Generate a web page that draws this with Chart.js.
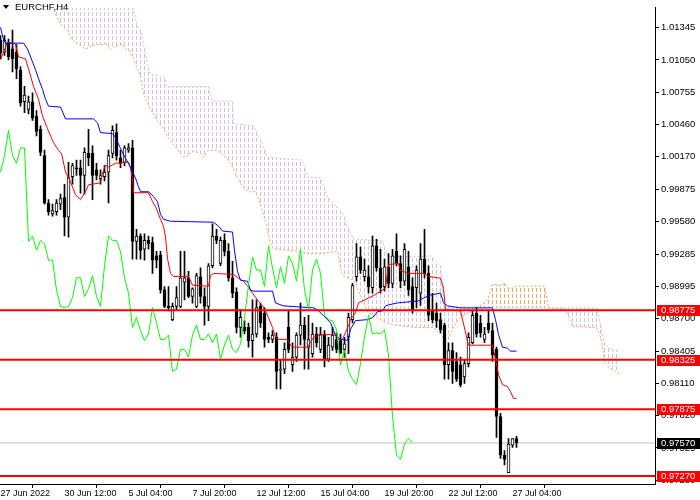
<!DOCTYPE html>
<html>
<head>
<meta charset="utf-8">
<title>EURCHF,H4</title>
<script src="https://cdn.jsdelivr.net/npm/chart.js@4.4.1/dist/chart.umd.min.js"></script>
<style>
  html, body { margin: 0; padding: 0; background: #fff; }
  #wrap { width: 700px; height: 500px; }
</style>
</head>
<body>
<div id="wrap"><canvas id="chart" width="700" height="500"></canvas></div>
<script>
// --- DATOS (barras H4, índice 0 = 27 Jun 2022 00:00) ---
const opens = [
  1.0123, 1.0112, 1.0121, 1.0115, 1.0112, 1.0096, 1.0067, 1.0060, 1.0067, 1.0054,
  1.0042, 1.0018, 0.9975, 0.9965, 0.9967, 0.9974, 0.9980, 0.9962, 0.9999, 1.0007,
  1.0007, 1.0000, 1.0020, 1.0020, 1.0005, 0.9997, 0.9999, 1.0003, 1.0020, 1.0039,
  1.0016, 1.0012, 1.0023, 1.0025, 0.9940, 0.9945, 0.9933, 0.9941, 0.9939, 0.9927,
  0.9928, 0.9896, 0.9881, 0.9869, 0.9881, 0.9881, 0.9903, 0.9907, 0.9890, 0.9881,
  0.9908, 0.9890, 0.9881, 0.9918, 0.9945, 0.9920, 0.9941, 0.9931, 0.9907, 0.9894,
  0.9862, 0.9862, 0.9862, 0.9850, 0.9856, 0.9881, 0.9875, 0.9853, 0.9851, 0.9853,
  0.9823, 0.9824, 0.9862, 0.9828, 0.9835, 0.9855, 0.9864, 0.9844, 0.9838, 0.9856,
  0.9842, 0.9856, 0.9833, 0.9844, 0.9851, 0.9850, 0.9842, 0.9853, 0.9869, 0.9908,
  0.9926, 0.9908, 0.9908, 0.9898, 0.9936, 0.9916, 0.9899, 0.9917, 0.9902, 0.9931,
  0.9920, 0.9904, 0.9917, 0.9899, 0.9898, 0.9893, 0.9924, 0.9911, 0.9877, 0.9875,
  0.9869, 0.9864, 0.9828, 0.9841, 0.9831, 0.9828, 0.9817, 0.9829, 0.9848, 0.9875,
  0.9866, 0.9851, 0.9866, 0.9859, 0.9842, 0.9781, 0.9746, 0.9730, 0.9755, 0.9761
];
const highs = [
  1.0127, 1.0127, 1.0124, 1.0132, 1.0119, 1.0099, 1.0081, 1.0072, 1.0075, 1.0059,
  1.0045, 1.0023, 0.9978, 0.9974, 0.9978, 0.9983, 0.9992, 1.0012, 1.0011, 1.0014,
  1.0014, 1.0025, 1.0042, 1.0027, 1.0011, 1.0005, 1.0009, 1.0023, 1.0045, 1.0047,
  1.0023, 1.0027, 1.0029, 1.0032, 0.9951, 0.9947, 0.9947, 0.9945, 0.9944, 0.9931,
  0.9931, 0.9899, 0.9899, 0.9884, 0.9899, 0.9931, 0.9931, 0.9913, 0.9898, 0.9911,
  0.9916, 0.9898, 0.9920, 0.9956, 0.9951, 0.9944, 0.9947, 0.9938, 0.9922, 0.9898,
  0.9878, 0.9868, 0.9866, 0.9887, 0.9887, 0.9884, 0.9880, 0.9857, 0.9859, 0.9857,
  0.9832, 0.9848, 0.9877, 0.9848, 0.9857, 0.9884, 0.9871, 0.9873, 0.9866, 0.9862,
  0.9862, 0.9859, 0.9853, 0.9862, 0.9857, 0.9856, 0.9853, 0.9875, 0.9902, 0.9938,
  0.9935, 0.9924, 0.9918, 0.9945, 0.9942, 0.9933, 0.9924, 0.9929, 0.9933, 0.9947,
  0.9927, 0.9938, 0.9931, 0.9907, 0.9918, 0.9938, 0.9951, 0.9918, 0.9893, 0.9884,
  0.9875, 0.9866, 0.9848, 0.9848, 0.9839, 0.9835, 0.9832, 0.9857, 0.9877, 0.9880,
  0.9873, 0.9862, 0.9877, 0.9866, 0.9844, 0.9784, 0.9750, 0.9761, 0.9761, 0.9763
];
const lows = [
  1.0106, 1.0109, 1.0105, 1.0094, 1.0088, 1.0063, 1.0057, 1.0056, 1.0050, 1.0036,
  1.0018, 0.9974, 0.9964, 0.9963, 0.9964, 0.9969, 0.9945, 0.9944, 0.9992, 1.0000,
  0.9984, 0.9983, 1.0009, 0.9978, 0.9996, 0.9992, 0.9995, 0.9975, 1.0016, 1.0014,
  1.0007, 1.0009, 1.0021, 0.9924, 0.9924, 0.9924, 0.9923, 0.9933, 0.9911, 0.9916,
  0.9893, 0.9880, 0.9877, 0.9868, 0.9878, 0.9880, 0.9887, 0.9889, 0.9884, 0.9880,
  0.9884, 0.9864, 0.9868, 0.9916, 0.9938, 0.9918, 0.9927, 0.9904, 0.9889, 0.9857,
  0.9853, 0.9856, 0.9844, 0.9835, 0.9853, 0.9862, 0.9844, 0.9848, 0.9848, 0.9806,
  0.9806, 0.9820, 0.9839, 0.9822, 0.9831, 0.9846, 0.9824, 0.9824, 0.9835, 0.9844,
  0.9839, 0.9826, 0.9831, 0.9841, 0.9839, 0.9838, 0.9835, 0.9838, 0.9866, 0.9904,
  0.9911, 0.9904, 0.9893, 0.9893, 0.9913, 0.9893, 0.9895, 0.9898, 0.9898, 0.9918,
  0.9898, 0.9900, 0.9891, 0.9875, 0.9880, 0.9882, 0.9907, 0.9868, 0.9866, 0.9862,
  0.9857, 0.9815, 0.9815, 0.9811, 0.9813, 0.9808, 0.9811, 0.9826, 0.9847, 0.9853,
  0.9853, 0.9848, 0.9857, 0.9831, 0.9762, 0.9743, 0.9737, 0.9730, 0.9753, 0.9753
];
const closes = [
  1.0111, 1.0123, 1.0108, 1.0106, 1.0097, 1.0066, 1.0073, 1.0067, 1.0052, 1.0040,
  1.0021, 0.9975, 0.9967, 0.9968, 0.9975, 0.9979, 0.9962, 0.9998, 1.0009, 1.0006,
  1.0000, 1.0021, 1.0016, 1.0000, 1.0000, 1.0000, 1.0003, 1.0018, 1.0041, 1.0018,
  1.0011, 1.0025, 1.0025, 0.9940, 0.9945, 0.9932, 0.9941, 0.9938, 0.9923, 0.9923,
  0.9896, 0.9881, 0.9880, 0.9881, 0.9889, 0.9907, 0.9907, 0.9890, 0.9897, 0.9909,
  0.9890, 0.9881, 0.9918, 0.9945, 0.9941, 0.9941, 0.9931, 0.9907, 0.9893, 0.9862,
  0.9871, 0.9859, 0.9850, 0.9856, 0.9880, 0.9866, 0.9851, 0.9851, 0.9855, 0.9822,
  0.9824, 0.9842, 0.9842, 0.9835, 0.9855, 0.9864, 0.9851, 0.9851, 0.9856, 0.9848,
  0.9856, 0.9833, 0.9846, 0.9855, 0.9842, 0.9839, 0.9847, 0.9871, 0.9900, 0.9926,
  0.9914, 0.9914, 0.9899, 0.9936, 0.9916, 0.9898, 0.9917, 0.9902, 0.9927, 0.9920,
  0.9904, 0.9933, 0.9896, 0.9878, 0.9914, 0.9924, 0.9911, 0.9873, 0.9869, 0.9868,
  0.9860, 0.9828, 0.9841, 0.9822, 0.9815, 0.9810, 0.9829, 0.9853, 0.9873, 0.9856,
  0.9857, 0.9856, 0.9860, 0.9837, 0.9781, 0.9746, 0.9742, 0.9756, 0.9761, 0.9757
];

// Ichimoku, vértices [barra, precio]
const tenkan = [
  [0, 1.01050], [1.75, 1.01211], [3.75, 1.01193], [4.5, 1.01077], [6.25, 1.01059], [7, 1.00970],
  [8.25, 1.00809], [9.5, 1.00693], [10.5, 1.00541], [11.75, 1.00424], [13.25, 1.00299], [14.5, 1.00228],
  [15.25, 1.00201], [16.25, 1.00031], [17.5, 0.99942], [18.75, 0.99825], [20, 0.99781], [21.25, 0.99852],
  [22, 0.99915], [25, 0.99933], [25.5, 1.00022], [26.25, 1.00094], [27, 1.00076], [28.75, 1.00111],
  [32, 1.00120], [32.5, 1.00067], [33, 0.99960], [33.25, 0.99843], [37, 0.99843], [38, 0.99763],
  [38.75, 0.99718], [40, 0.99602], [40.75, 0.99539], [41.25, 0.99441], [41.75, 0.99244], [42.5, 0.99110],
  [43.25, 0.99083], [47, 0.99083], [48, 0.99003], [52, 0.98994], [52.5, 0.99092], [53.25, 0.99110],
  [58.25, 0.99101], [59.5, 0.99066], [60.75, 0.99039], [61.75, 0.98994], [63, 0.98931], [64.25, 0.98869],
  [65.5, 0.98815], [66.25, 0.98770], [67, 0.98708], [68, 0.98619], [68.75, 0.98529], [69.5, 0.98511],
  [71.75, 0.98511], [72.5, 0.98458], [73, 0.98440], [76.75, 0.98440], [77.5, 0.98484], [78.25, 0.98529],
  [79.25, 0.98547], [82.5, 0.98556], [83.75, 0.98547], [84.5, 0.98511], [85.5, 0.98511], [86.25, 0.98574],
  [87, 0.98636], [87.5, 0.98690], [88.75, 0.98753], [89.5, 0.98842], [91, 0.98869], [92, 0.98887],
  [93, 0.98905], [94.25, 0.98931], [96.25, 0.98976], [97, 0.99191], [99.5, 0.99200], [100, 0.99137],
  [102, 0.99110], [105.75, 0.99110], [107, 0.99083], [110, 0.99066], [110.75, 0.98976], [111.25, 0.98779],
  [115, 0.98770], [117, 0.98458], [123, 0.98458], [123.75, 0.98332], [124.5, 0.98189], [125.5, 0.98100],
  [126.75, 0.98082], [127.5, 0.98037], [128.25, 0.97975], [129, 0.97975]
];
const kijun = [
  [0, 1.01345], [0.8, 1.01229], [1.25, 1.01202], [5.75, 1.01202], [6.75, 1.01149], [8, 1.01032],
  [8.75, 1.00961], [9.5, 1.00880], [10.5, 1.00782], [11.25, 1.00693], [12, 1.00630], [15, 1.00621],
  [16.25, 1.00514], [23.25, 1.00514], [24.25, 1.00478], [25, 1.00389], [28, 1.00380], [28.75, 1.00344],
  [30, 1.00246], [31.25, 1.00156], [32, 1.00111], [33, 1.00031], [33.75, 0.99977], [34.5, 0.99897],
  [35, 0.99852], [37, 0.99852], [38.25, 0.99808], [39.25, 0.99763], [40, 0.99647], [40.75, 0.99602],
  [42.5, 0.99584], [53.25, 0.99575], [54.5, 0.99539], [55.5, 0.99495], [58, 0.99486], [58.5, 0.99316],
  [59.25, 0.99128], [60, 0.99048], [61.75, 0.99039], [62.5, 0.98958], [63.25, 0.98949], [68, 0.98949],
  [68.75, 0.98842], [70.75, 0.98815], [78.25, 0.98797], [79.25, 0.98779], [80.75, 0.98726], [82.5, 0.98663],
  [83.75, 0.98547], [85, 0.98511], [86.75, 0.98502], [87.5, 0.98601], [88.75, 0.98681], [91.75, 0.98690],
  [93, 0.98708], [94.25, 0.98762], [95.5, 0.98770], [96.25, 0.98815], [97, 0.98824], [99.25, 0.98842],
  [104.5, 0.98860], [105.75, 0.98887], [107.5, 0.98914], [110, 0.98931], [110.75, 0.98842], [111.75, 0.98815],
  [115, 0.98797], [123, 0.98797], [123.75, 0.98690], [124.5, 0.98556], [125.5, 0.98440], [126.75, 0.98431],
  [127.5, 0.98404], [129, 0.98404]
];
const spanA = [
  [0, 1.01926], [6, 1.01792], [11, 1.01613], [13, 1.01524], [15, 1.01372], [16.75, 1.01318],
  [18, 1.01229], [21.25, 1.01149], [23.25, 1.01184], [26.75, 1.01193], [27.5, 1.01140], [28.25, 1.01166],
  [30.5, 1.01193], [31.25, 1.01149], [32.5, 1.01122], [33.75, 1.01014], [35, 1.00898], [35.75, 1.00746],
  [37.5, 1.00603], [39.25, 1.00496], [40.75, 1.00424], [42, 1.00335], [43.75, 1.00255], [45.75, 1.00165],
  [47, 1.00183], [48.25, 1.00219], [50, 1.00201], [50.75, 1.00165], [52, 1.00228], [54.25, 1.00228],
  [55.75, 1.00183], [57.5, 1.00111], [59.25, 0.99977], [60.75, 0.99888], [62.5, 0.99852], [63.75, 0.99852],
  [65, 0.99736], [66.25, 0.99584], [67.5, 0.99378], [68.25, 0.99334], [73.25, 0.99316], [76.75, 0.99289],
  [80, 0.99289], [83.25, 0.99307], [84.25, 0.99307], [85, 0.99173], [85.5, 0.99092], [87, 0.99066],
  [88.25, 0.99048], [90, 0.98914], [91.25, 0.98797], [92, 0.98753], [96.25, 0.98663], [99.25, 0.98636],
  [104.25, 0.98619], [108, 0.98619], [110, 0.98574], [111, 0.98502], [112, 0.98511], [113, 0.98601],
  [114, 0.98663], [115, 0.98708], [117, 0.98753], [119, 0.98797], [121, 0.98842], [122, 0.98887],
  [123, 0.99012], [125, 0.99003], [126, 0.99021], [127, 0.98976], [128, 0.98976], [128.5, 0.98994],
  [136, 0.98994], [137, 0.98797], [141, 0.98788], [142, 0.98726], [143, 0.98627], [149, 0.98619],
  [150, 0.98529], [150.5, 0.98458], [151, 0.98306], [152, 0.98261], [153, 0.98234], [155, 0.98189]
];
const spanB = [
  [0, 1.02150], [15, 1.02060], [25, 1.01882], [33, 1.01542], [34.25, 1.01345], [35, 1.01327],
  [37, 1.00970], [37.5, 1.00916], [40.75, 1.00898], [41.75, 1.00809], [52, 1.00809], [53, 1.00675],
  [58, 1.00675], [58.25, 1.00469], [63.25, 1.00451], [64.25, 1.00380], [65.5, 1.00290], [66.75, 1.00165],
  [75.5, 1.00138], [76.75, 0.99986], [80, 0.99977], [80.75, 0.99915], [81.75, 0.99799], [84.25, 0.99709],
  [85.75, 0.99647], [86.75, 0.99530], [88.25, 0.99423], [95.5, 0.99405], [96.75, 0.99262], [105, 0.99262],
  [107.5, 0.99271], [110, 0.99182], [111, 0.98806], [141, 0.98797], [149, 0.98797], [150, 0.98645],
  [151, 0.98475], [152, 0.98440], [153, 0.98413], [155, 0.98413]
];
const chikouShift = 26;

// niveles horizontales y precio actual
const levels = [0.98775, 0.98325, 0.97875, 0.97270];
const lastPrice = 0.97570;

// ejes
const yTickValues = [1.01345, 1.01050, 1.00755, 1.00460, 1.00170, 0.99875, 0.99580, 0.99285,
  0.98995, 0.98700, 0.98405, 0.98110, 0.97820, 0.97525, 0.97230];
const xTickIdx = [0, 16, 32, 48, 64, 80, 96, 112, 128];
const xTickLabels = ['27 Jun 2022', '30 Jun 12:00', '5 Jul 04:00', '7 Jul 20:00', '12 Jul 12:00',
  '15 Jul 04:00', '19 Jul 20:00', '22 Jul 12:00', '27 Jul 04:00'];

const X_MIN = -0.125, X_MAX = 163.625;
const Y_MIN = 0.97197, Y_MAX = 1.01524;
const FONT = "'Liberation Sans', Arial, sans-serif";

// --- FUNCIONES ---
// rayado vertical de la nube (trazos de 4px cada 4px en horizontal)
function hatch(color) {
  const c = document.createElement('canvas');
  c.width = 4; c.height = 6;
  const g = c.getContext('2d');
  g.fillStyle = color;
  g.fillRect(0, 0, 1, 4);
  return g.createPattern(c, 'repeat');
}

function toPoints(list) {
  return list.map(p => ({ x: p[0], y: p[1] }));
}

function lineSet(label, data, color, extra) {
  return Object.assign({
    type: 'line', label: label, data: data,
    borderColor: color, borderWidth: 1, pointRadius: 0, tension: 0, fill: false
  }, extra || {});
}

const wicks = closes.map((c, i) => ({ x: i, y: [lows[i], highs[i]] }));
const bodies = closes.map((c, i) => ({ x: i, y: [opens[i], c] }));
const bodyFill = closes.map((c, i) => c >= opens[i] ? '#ffffff' : '#000000');
const chikou = closes.slice(chikouShift).map((c, j) => ({ x: j, y: c }));

const levelSets = levels.map(v => lineSet('nivel ' + v, [{ x: X_MIN, y: v }, { x: X_MAX, y: v }], '#ff0000',
  { borderWidth: 2, order: 0 }));

// textos sobre el eje: título y etiquetas de niveles
const overlay = {
  id: 'overlay',
  afterDraw(chart) {
    const ctx = chart.ctx;
    const ys = chart.scales.y;
    const right = chart.chartArea.right;
    ctx.save();
    ctx.font = '9.5px ' + FONT;
    ctx.textBaseline = 'middle';
    ctx.textAlign = 'left';
    levels.forEach(v => {
      const y = Math.round(ys.getPixelForValue(v));
      ctx.fillStyle = '#ff0000';
      ctx.fillRect(right + 2, y - 5, 700 - right - 2, 11);
      ctx.fillStyle = '#ffffff';
      ctx.fillText(v.toFixed(5), right + 6, y + 0.5);
    });
    const yp = Math.round(ys.getPixelForValue(lastPrice));
    ctx.fillStyle = '#000000';
    ctx.fillRect(right + 2, yp - 5, 700 - right - 2, 11);
    ctx.fillStyle = '#ffffff';
    ctx.fillText(lastPrice.toFixed(5), right + 6, yp + 0.5);

    // título
    ctx.fillStyle = '#000000';
    ctx.beginPath();
    ctx.moveTo(3, 5); ctx.lineTo(9, 5); ctx.lineTo(6, 9); ctx.closePath();
    ctx.fill();
    ctx.font = '9.5px ' + FONT;
    ctx.fillText('EURCHF,H4', 15, 7.5);
    ctx.restore();
  }
};

Chart.defaults.font.family = FONT;
Chart.defaults.color = '#000';

const cloudAbove = hatch('#d8bfd8');
const cloudBelow = hatch('#f4a460');

new Chart(document.getElementById('chart'), {
  type: 'bar',
  data: {
    datasets: [
      lineSet('Senkou Span A', toPoints(spanA), '#f4a460', { borderDash: [2, 2], order: 6 }),
      lineSet('Senkou Span B', toPoints(spanB), '#d8bfd8',
        { borderDash: [2, 2], order: 6, fill: { target: 0, above: cloudAbove, below: cloudBelow } }),
      { type: 'bar', label: 'mechas', data: wicks, backgroundColor: '#000', borderWidth: 0,
        barThickness: 1, grouped: false, order: 4 },
      { type: 'bar', label: 'cuerpos', data: bodies, backgroundColor: bodyFill, borderColor: '#000',
        borderWidth: 1, borderSkipped: false, barThickness: 3, minBarLength: 1, grouped: false, order: 3 },
      lineSet('precio', [{ x: X_MIN, y: lastPrice }, { x: X_MAX, y: lastPrice }], '#c0c0c0', { order: 5 }),
      lineSet('Chikou Span', chikou, '#00ff00', { order: 1 }),
      lineSet('Kijun-sen', toPoints(kijun), '#0000ff', { order: 1 }),
      lineSet('Tenkan-sen', toPoints(tenkan), '#ff0000', { order: 1 }),
      ...levelSets
    ]
  },
  options: {
    responsive: false,
    animation: false,
    devicePixelRatio: 1,
    layout: { padding: 0 },
    plugins: { legend: { display: false }, tooltip: { enabled: false } },
    scales: {
      x: {
        type: 'linear', min: X_MIN, max: X_MAX, offset: false,
        grid: { display: true, drawOnChartArea: false, drawTicks: true, tickLength: 4, color: '#000' },
        border: { display: true, color: '#000' },
        afterBuildTicks: s => { s.ticks = xTickIdx.map(v => ({ value: v })); },
        afterFit: s => { s.height = 16; },
        ticks: {
          autoSkip: false, maxRotation: 0, align: 'start', padding: 0,
          font: { size: 9 }, color: '#000',
          callback: v => { const k = xTickIdx.indexOf(v); return k >= 0 ? xTickLabels[k] : ''; }
        }
      },
      y: {
        type: 'linear', position: 'right', min: Y_MIN, max: Y_MAX,
        grid: { display: true, drawOnChartArea: false, drawTicks: true, tickLength: 4, color: '#000' },
        border: { display: true, color: '#000' },
        afterBuildTicks: s => { s.ticks = yTickValues.map(v => ({ value: v })); },
        afterFit: s => { s.width = 45; },
        ticks: {
          autoSkip: false, padding: 2, font: { size: 9.5 }, color: '#000',
          callback: v => Number(v).toFixed(5)
        }
      }
    }
  },
  plugins: [overlay]
});
</script>
</body>
</html>
